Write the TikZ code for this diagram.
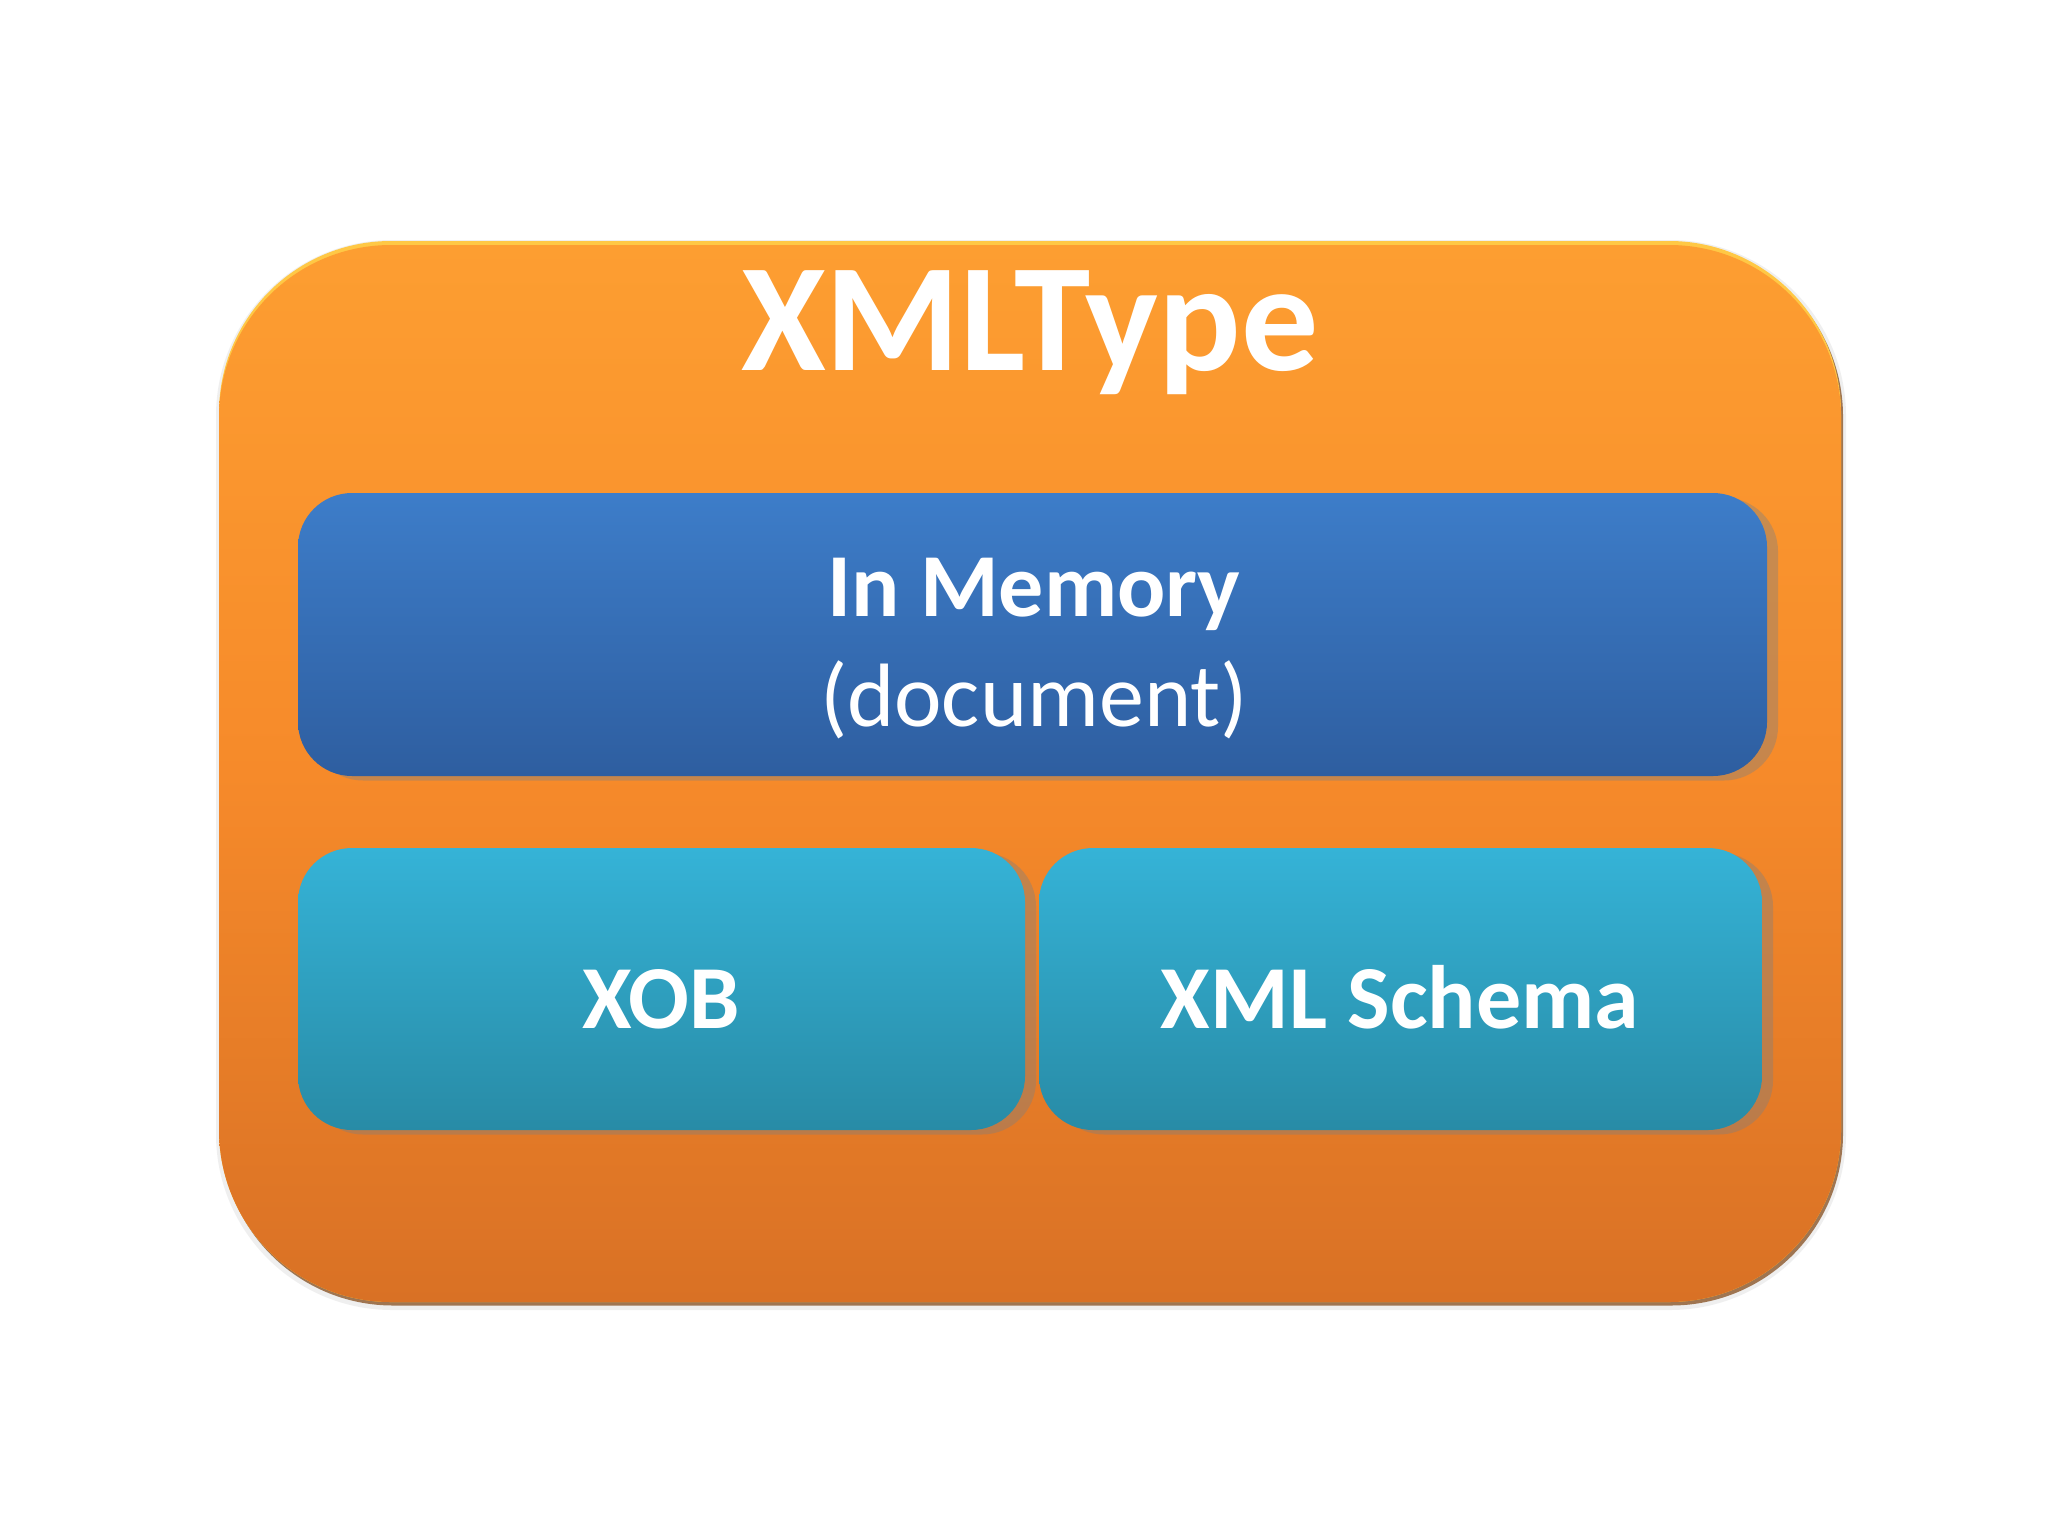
\documentclass[tikz,border=0pt]{standalone}
\usepackage{fontspec}
\setmainfont{Carlito}
\definecolor{orgtop}{HTML}{FD9E31}
\definecolor{orgmid}{HTML}{F68A2A}
\definecolor{orgbot}{HTML}{D97125}
\definecolor{orghi}{HTML}{FFC845}
\definecolor{orgsh}{HTML}{7E420F}
\definecolor{bluetop}{HTML}{3D7DC9}
\definecolor{bluebot}{HTML}{2E5EA0}
\definecolor{tealtop}{HTML}{35B3D7}
\definecolor{tealbot}{HTML}{288BA6}
\tikzset{
  boxbase/.style={draw=none, inner sep=0pt, outer sep=0pt, rectangle},
  innersh/.style={boxbase, fill=gray, opacity=0.4, rounded corners=27pt},
  bluebox/.style={boxbase, rounded corners=27pt, top color=bluetop, bottom color=bluebot},
  tealbox/.style={boxbase, rounded corners=27pt, top color=tealtop, bottom color=tealbot},
  lbl/.style={text=white, inner sep=0pt, anchor=base}
}
\begin{document}
\begin{tikzpicture}[x=0.5pt,y=-0.5pt]
\useasboundingbox[fill=white] (0,0) rectangle (2048,1536);
% outer box
\node[boxbase, fill=gray, opacity=0.12, rounded corners=88pt, minimum width=815pt, minimum height=535pt] (outerglow) at (1031,775) {};
\node[boxbase, fill=orgsh, opacity=0.7, rounded corners=86pt, minimum width=811pt, minimum height=530.5pt] (outersh) at (1032,775) {};
\node[boxbase, fill=orghi, rounded corners=86pt, minimum width=811pt, minimum height=530.5pt] (outerhi) at (1030,771.5) {};
\node[boxbase, rounded corners=86pt, minimum width=811pt, minimum height=528.5pt,
  top color=orgtop, bottom color=orgbot, middle color=orgmid] (outer) at (1030,773.5) {};
% shadows
\node[innersh, minimum width=734.5pt, minimum height=141.5pt] (memsh) at (1043.5,639) {};
\node[innersh, minimum width=363.5pt, minimum height=141pt] (xobsh) at (672.5,993.5) {};
\node[innersh, minimum width=361.5pt, minimum height=141pt] (schsh) at (1411.5,993.5) {};
% inner boxes
\node[bluebox, minimum width=734.5pt, minimum height=141.5pt] (mem) at (1032.5,634.5) {};
\node[tealbox, minimum width=363.5pt, minimum height=141pt] (xob) at (661.5,989) {};
\node[tealbox, minimum width=361.5pt, minimum height=141pt] (sch) at (1400.5,989) {};
% labels
\node[lbl, font=\bfseries\fontsize{77}{80}\selectfont] (title) at (1030,370) {XMLType};
\node[lbl, font=\bfseries\fontsize{45}{54}\selectfont] (memt) at (1034,616) {In Memory};
\node[lbl, font=\fontsize{45}{54}\selectfont] (doct) at (1034,726) {(document)};
\node[lbl, font=\bfseries\fontsize{45}{54}\selectfont] (xobt) at (661,1028) {XOB};
\node[lbl, font=\bfseries\fontsize{45}{54}\selectfont] (scht) at (1400,1028) {XML Schema};
\end{tikzpicture}
\end{document}
